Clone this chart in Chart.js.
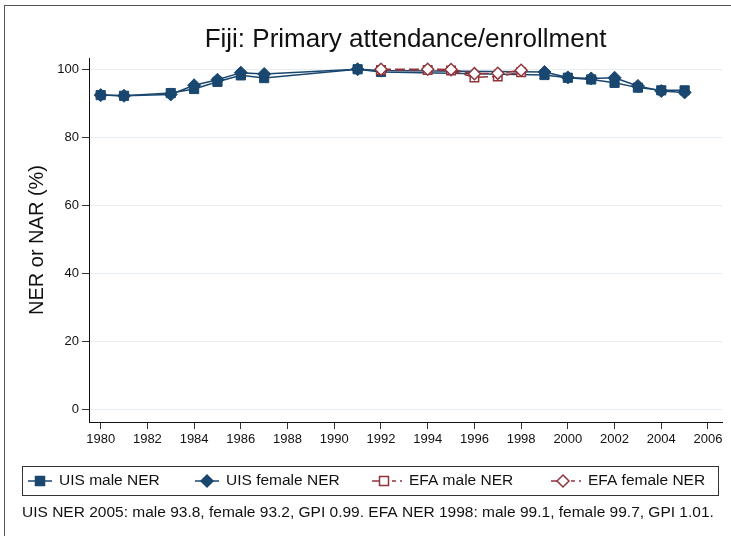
<!DOCTYPE html>
<html>
<head>
<meta charset="utf-8">
<script src="https://cdn.jsdelivr.net/npm/chart.js@4.4.1/dist/chart.umd.min.js"></script>
<style>
  html, body { margin: 0; padding: 0; background: #fff; }
  #wrap { width: 731px; height: 536px; }
</style>
</head>
<body>
<div id="wrap"><canvas id="chart" width="731" height="536"></canvas></div>
<script>
// data
var uisYears = [1980, 1981, 1983, 1984, 1985, 1986, 1987, 1991, 1992, 1999, 2000, 2001, 2002, 2003, 2004, 2005];
var uisMale = [92.4, 92.2, 93.0, 94.2, 96.3, 98.2, 97.4, 100, 99.2, 98.3, 97.5, 97.0, 96.0, 94.6, 93.8, 93.8];
var uisFemale = [92.4, 92.2, 92.6, 95.3, 96.9, 99.0, 98.6, 100, 99.6, 99.2, 97.6, 97.3, 97.5, 95.1, 93.6, 93.2];
var efaYears = [1992, 1994, 1995, 1996, 1997, 1998];
var efaMale = [99.8, 99.8, 99.6, 97.6, 97.9, 99.1];
var efaFemale = [100, 100, 99.9, 98.7, 98.8, 99.7];
var xTicks = [1980, 1982, 1984, 1986, 1988, 1990, 1992, 1994, 1996, 1998, 2000, 2002, 2004, 2006];
var yTicks = [0, 20, 40, 60, 80, 100];
var seriesNames = ['UIS male NER', 'UIS female NER', 'EFA male NER', 'EFA female NER'];
var noteText = 'UIS NER 2005: male 93.8, female 93.2, GPI 0.99. EFA NER 1998: male 99.1, female 99.7, GPI 1.01.';
var titleText = 'Fiji: Primary attendance/enrollment';

var NAVY = '#1a476f';
var RED = '#90353b';
var FONT = '"Liberation Sans", Arial, sans-serif';

function pts(xs, ys) {
    return xs.map(function (x, i) { return { x: x, y: ys[i] }; });
}

function drawMarker(ctx, kind, x, y, color) {
    ctx.save();
    ctx.lineWidth = 1.5;
    ctx.strokeStyle = color;
    ctx.fillStyle = (kind === 'sq' || kind === 'dm') ? color : '#fff';
    ctx.beginPath();
    if (kind === 'sq' || kind === 'hsq') {
        ctx.rect(x - 4.5, y - 4.5, 9, 9);
    } else {
        ctx.moveTo(x - 6, y); ctx.lineTo(x, y - 6); ctx.lineTo(x + 6, y); ctx.lineTo(x, y + 6); ctx.closePath();
    }
    ctx.fill();
    ctx.stroke();
    ctx.restore();
}

// frame, title, axis title, legend box and note
var decor = {
    id: 'decor',
    beforeDraw: function (chart) {
        var ctx = chart.ctx;
        ctx.save();
        ctx.fillStyle = '#fff';
        ctx.fillRect(0, 0, chart.width, chart.height);
        ctx.strokeStyle = '#555';
        ctx.lineWidth = 1;
        ctx.strokeRect(4.5, 5.5, 740, 540);
        ctx.restore();
    },
    afterDraw: function (chart) {
        var ctx = chart.ctx;
        var area = chart.chartArea;
        ctx.save();
        ctx.fillStyle = '#111';
        ctx.textBaseline = 'middle';
        ctx.textAlign = 'center';
        ctx.font = '26px ' + FONT;
        ctx.fillText(titleText, (area.left + area.right) / 2, 40);

        ctx.save();
        ctx.translate(37, (area.top + area.bottom) / 2);
        ctx.rotate(-Math.PI / 2);
        ctx.font = '20px ' + FONT;
        ctx.fillText('NER or NAR (%)', 0, 0);
        ctx.restore();

        // legend
        ctx.strokeStyle = '#333';
        ctx.lineWidth = 1;
        ctx.strokeRect(22.5, 466.5, 696, 29);
        var items = [
            { x: 28, kind: 'sq', color: NAVY, red: false },
            { x: 195, kind: 'dm', color: NAVY, red: false },
            { x: 372, kind: 'hsq', color: RED, red: true },
            { x: 551, kind: 'hdm', color: RED, red: true }
        ];
        var ly = 481;
        ctx.font = '15.5px ' + FONT;
        ctx.textAlign = 'left';
        items.forEach(function (it, i) {
            ctx.save();
            ctx.strokeStyle = it.color;
            ctx.lineWidth = 1.5;
            ctx.beginPath();
            if (!it.red) {
                ctx.moveTo(it.x, ly); ctx.lineTo(it.x + 24, ly);
            } else {
                ctx.moveTo(it.x, ly); ctx.lineTo(it.x + 16, ly);
                ctx.moveTo(it.x + 20, ly); ctx.lineTo(it.x + 24, ly);
                ctx.moveTo(it.x + 28, ly); ctx.lineTo(it.x + 30, ly);
            }
            ctx.stroke();
            ctx.restore();
            drawMarker(ctx, it.kind, it.x + 12, ly, it.color);
            ctx.fillStyle = '#111';
            ctx.fillText(seriesNames[i], it.x + (it.red ? 37 : 31), ly);
        });

        ctx.font = '15.5px ' + FONT;
        ctx.fillText(noteText, 22, 513);
        ctx.restore();
    }
};

var ctx = document.getElementById('chart').getContext('2d');
var chart = new Chart(ctx, {
    type: 'line',
    data: {
        datasets: [{
            label: seriesNames[0],
            data: pts(uisYears, uisMale),
            borderColor: NAVY, backgroundColor: NAVY,
            borderWidth: 1.5, pointStyle: 'rect', pointRadius: 6.5,
            pointBorderWidth: 1, order: 3
        }, {
            label: seriesNames[1],
            data: pts(uisYears, uisFemale),
            borderColor: NAVY, backgroundColor: NAVY,
            borderWidth: 1.5, pointStyle: 'rectRot', pointRadius: 6.5,
            pointBorderWidth: 1, order: 2
        }, {
            label: seriesNames[2],
            data: pts(efaYears, efaMale),
            borderColor: RED, backgroundColor: '#fff',
            borderWidth: 1.5, borderDash: [10, 4], pointStyle: 'rect', pointRadius: 6,
            pointBorderWidth: 1.5, order: 1
        }, {
            label: seriesNames[3],
            data: pts(efaYears, efaFemale),
            borderColor: RED, backgroundColor: '#fff',
            borderWidth: 1.5, borderDash: [10, 4], pointStyle: 'rectRot', pointRadius: 6,
            pointBorderWidth: 1.5, order: 0
        }]
    },
    options: {
        responsive: false,
        animation: false,
        layout: { padding: { left: 0, top: 58, right: 9, bottom: 78 } },
        plugins: {
            legend: { display: false },
            title: { display: false },
            tooltip: { enabled: false }
        },
        scales: {
            x: {
                type: 'linear',
                min: 1979.5,
                max: 2006.6,
                afterBuildTicks: function (scale) {
                    scale.ticks = xTicks.map(function (v) { return { value: v }; });
                },
                afterFit: function (scale) { scale.height = 36; },
                grid: { drawOnChartArea: false, tickLength: 7, tickColor: '#333', tickWidth: 1 },
                border: { color: '#111', width: 1 },
                ticks: {
                    color: '#111', font: { family: FONT, size: 13 }, padding: 3,
                    maxRotation: 0, autoSkip: false,
                    callback: function (v) { return String(v); }
                }
            },
            y: {
                min: -3.6,
                max: 103.3,
                afterBuildTicks: function (scale) {
                    scale.ticks = yTicks.map(function (v) { return { value: v }; });
                },
                afterFit: function (scale) { scale.width = 89; },
                grid: { color: '#e7eef3', lineWidth: 1, tickLength: 7, tickColor: '#333' },
                border: { color: '#111', width: 1 },
                ticks: {
                    color: '#111', font: { family: FONT, size: 13 }, padding: 3,
                    callback: function (v) { return String(v); }
                }
            }
        }
    },
    plugins: [decor]
});
</script>
</body>
</html>
